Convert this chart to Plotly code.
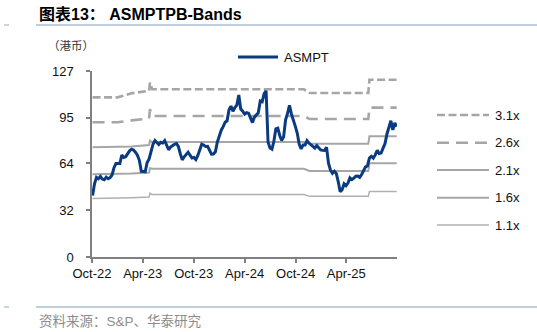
import pandas as pd
import plotly.graph_objects as go

# ---------------- data ----------------
price_start = "2022-10-03"
price_values = [
    42, 50, 54.4, 53.5, 55, 53.2, 52.7, 54.5, 53.4, 54.2,
    56, 61, 63.8, 64, 63.8, 69.6, 68, 68.5, 71, 72.5,
    73.6, 73, 71.5, 69.5, 66, 58.5, 58.4, 58.2, 64.5, 67,
    72, 77, 79.5, 78, 76.8, 78.3, 77.8, 79.5, 76.5, 73.2,
    75, 76.3, 77, 77.5, 75.5, 70.5, 66.3, 68.4, 70.2, 71.5,
    69.5, 67.6, 68, 66.5, 69.3, 72.8, 77, 76.5, 75.4, 75.5,
    73.2, 70.2, 70.3, 71.8, 78.5, 83, 86.6, 89, 92, 93,
    100.5, 103, 99.5, 102, 103.7, 110.6, 101, 99.5, 97.5, 98.5,
    98.2, 95, 91.8, 95.5, 96.8, 98.5, 106.5, 106, 111.5, 113.5,
    78.5, 74.5, 73.7, 79, 87.5, 88, 83, 79.5, 82, 93.6,
    98, 103.5, 97.5, 92.5, 89.2, 84.5, 77, 73.8, 76.5, 76.5,
    79.5, 77.8, 76.6, 76, 74.3, 76, 74.5, 73.1, 72.8, 72.7,
    75, 64, 59.4, 57.2, 58.6, 57, 51.5, 44.5, 46, 50,
    48.7, 50.5, 54, 52.8, 53.8, 55.2, 55.3, 54.4, 56.3, 59.2,
    61.6, 62.2, 67.5, 68.8, 67.5, 69.7, 72.9, 70.7, 71, 74.3,
    77.4, 84, 88.8, 93, 86.8, 91.5, 89,
]
price_dates = pd.date_range(price_start, periods=len(price_values), freq="7D")

band_dates = ["2022-10-03", "2022-12-31", "2023-02-20", "2023-04-24", "2023-04-27",
              "2023-05-05", "2024-10-31", "2024-11-20", "2025-06-19", "2025-06-23",
              "2025-09-29"]
band_31 = [109.0, 109.0, 111.8, 113.5, 119.0, 114.5, 114.5, 112.0, 112.0, 121.0, 121.0]
band_26 = [92.0, 92.0, 93.3, 94.5, 101.0, 96.3, 96.3, 94.2, 94.2, 102.0, 102.0]
band_21 = [75.0, 75.0, 75.5, 76.5, 79.5, 78.6, 78.6, 77.4, 77.4, 82.5, 82.5]
band_16 = [56.5, 56.5, 57.0, 57.6, 60.6, 60.2, 60.2, 58.8, 58.8, 64.0, 64.0]
band_11 = [40.0, 40.0, 40.5, 40.9, 43.5, 42.6, 42.6, 41.4, 41.4, 44.8, 44.8]

band_labels = ["3.1x", "2.6x", "2.1x", "1.6x", "1.1x"]
tick_dates = ["2022-10-01", "2023-04-01", "2023-10-01", "2024-04-01", "2024-10-01", "2025-04-01"]
tick_labels = ["Oct-22", "Apr-23", "Oct-23", "Apr-24", "Oct-24", "Apr-25"]
y_ticks = [0, 32, 64, 95, 127]

# ---------------- styles ----------------
GRAY = "#a6a6a6"
BLUE = "#0a3b80"
band_styles = [
    dict(color=GRAY, width=2.6, dash="8px,3.5px"),
    dict(color=GRAY, width=2.6, dash="12px,7px"),
    dict(color=GRAY, width=2.0, dash="solid"),
    dict(color=GRAY, width=2.0, dash="solid"),
    dict(color="#b0b0b0", width=1.5, dash="solid"),
]

W, H = 537, 332
L, R, T, B = 92, 140, 71, 75
PW, PH = W - L - R, H - T - B
FONT = "Liberation Sans, Arial, Noto Sans CJK SC, sans-serif"


def px(x):
    return (x - L) / PW


def py(y):
    return (H - B - y) / PH


fig = go.Figure()
for vals, st in zip([band_31, band_26, band_21, band_16, band_11], band_styles):
    fig.add_trace(go.Scatter(x=band_dates, y=vals, mode="lines", line=st,
                             showlegend=False, hoverinfo="skip"))
fig.add_trace(go.Scatter(x=price_dates, y=price_values, mode="lines",
                         line=dict(color=BLUE, width=3), showlegend=False))

shapes = []
annotations = []

# legend: ASMPT
shapes.append(dict(type="line", xref="paper", yref="paper", x0=px(238), x1=px(278),
                   y0=py(57), y1=py(57), line=dict(color=BLUE, width=3)))
annotations.append(dict(text="ASMPT", xref="paper", yref="paper", x=px(282), y=py(57),
                        xanchor="left", yanchor="middle", showarrow=False,
                        font=dict(size=13, color="#111", family=FONT)))
# legend: bands
leg_y = [115, 142.7, 170, 197.7, 225]
for lab, st, yy in zip(band_labels, band_styles, leg_y):
    shapes.append(dict(type="line", xref="paper", yref="paper", x0=px(437), x1=px(489),
                       y0=py(yy), y1=py(yy), line=st))
    annotations.append(dict(text=lab, xref="paper", yref="paper", x=px(493), y=py(yy),
                            xanchor="left", yanchor="middle", showarrow=False,
                            font=dict(size=13, color="#111", family=FONT)))

# header / footer
annotations.append(dict(text="<b>图表13： ASMPTPB-Bands</b>", xref="paper", yref="paper",
                        x=px(37), y=py(14), xanchor="left", yanchor="middle", showarrow=False,
                        font=dict(size=16, color="#000", family=FONT)))
annotations.append(dict(text="（港币）", xref="paper", yref="paper",
                        x=px(46), y=py(45), xanchor="left", yanchor="middle", showarrow=False,
                        font=dict(size=11.5, color="#333", family="Noto Sans CJK SC")))
annotations.append(dict(text="资料来源：S&P、华泰研究", xref="paper", yref="paper",
                        x=px(37), y=py(321), xanchor="left", yanchor="middle", showarrow=False,
                        font=dict(size=13.5, color="#8c8c8c", family=FONT)))
for yy in (25, 307):
    shapes.append(dict(type="line", xref="paper", yref="paper", x0=px(36), x1=px(537),
                       y0=py(yy), y1=py(yy), line=dict(color="#a9bfd4", width=1.3)))
    shapes.append(dict(type="line", xref="paper", yref="paper", x0=px(4), x1=px(9),
                       y0=py(yy), y1=py(yy), line=dict(color="#a9bfd4", width=1.3)))

fig.update_layout(
    width=W, height=H,
    margin=dict(l=L, r=R, t=T, b=B, pad=0),
    paper_bgcolor="white", plot_bgcolor="white",
    shapes=shapes, annotations=annotations,
    font=dict(family=FONT, size=13, color="#111"),
)
fig.update_xaxes(type="date", range=["2022-10-01", "2025-09-30"],
                 tickvals=tick_dates, ticktext=tick_labels,
                 showgrid=False, zeroline=False, showline=True, linecolor="#808080", linewidth=1.5,
                 ticks="outside", ticklen=4, tickcolor="#808080", tickwidth=1.5,
                 tickfont=dict(size=13, color="#111"))
fig.update_yaxes(range=[0, 127], tickvals=y_ticks,
                 showgrid=False, zeroline=False, showline=True, linecolor="#808080", linewidth=1.5,
                 ticks="outside", ticklen=4, tickcolor="#808080", tickwidth=1.5,
                 ticklabelstandoff=10,
                 tickfont=dict(size=13, color="#111"))

fig.write_html("out.html")
